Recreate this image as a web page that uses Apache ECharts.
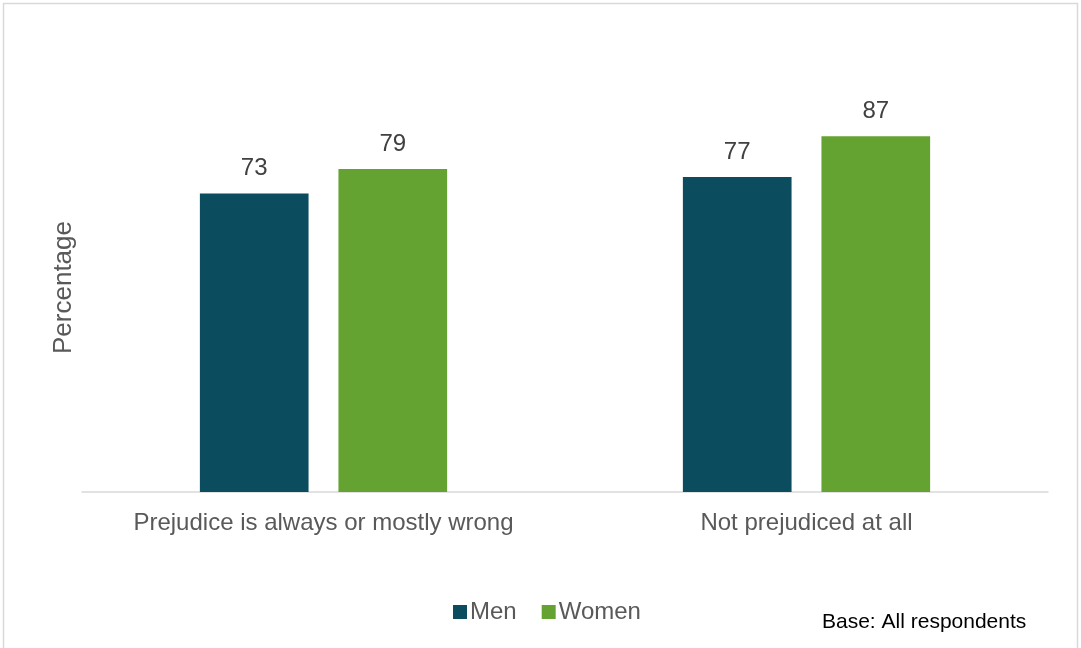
<!DOCTYPE html>
<html><head><meta charset="utf-8">
<script src="https://cdn.jsdelivr.net/npm/echarts@6/dist/echarts.min.js"></script>
<style>html,body{margin:0;padding:0;background:#fff}#c{width:1081px;height:648px}</style>
</head><body><div id="c"></div>
<script>
const categories = ["Prejudice is always or mostly wrong", "Not prejudiced at all"];
const menValues = [73, 77];
const womenValues = [79, 87];
const seriesNames = ["Men", "Women"];
const yAxisTitle = "Percentage";
const baseNote = "Base: All respondents";

const chart = echarts.init(document.getElementById('c'), null, {renderer: 'canvas'});
const font = '"Liberation Sans", Arial, sans-serif';
const lbl = {show: true, position: 'top', distance: 13, color: '#404040', fontSize: 24, fontFamily: font};
chart.setOption({
  animation: false,
  grid: {left: 82, right: 33, top: 83, bottom: 156, containLabel: false},
  legend: {
    data: seriesNames, top: 595, left: 448, itemWidth: 14, itemHeight: 14, itemGap: 25,
    icon: 'rect', textStyle: {color: '#595959', fontSize: 24, fontFamily: font, padding: [0, 0, 0, -2]}
  },
  xAxis: {
    type: 'category', data: categories,
    axisLine: {lineStyle: {color: '#d9d9d9', width: 1.5}},
    axisTick: {show: false},
    axisLabel: {color: '#595959', fontSize: 24, fontFamily: font, margin: 19, interval: 0}
  },
  yAxis: {
    type: 'value', min: 0, max: 100, interval: 20,
    name: yAxisTitle, nameLocation: 'middle', nameGap: 5, nameRotate: 90,
    nameTextStyle: {color: '#595959', fontSize: 26, fontFamily: font},
    axisLine: {show: false}, axisTick: {show: false}, axisLabel: {show: false},
    splitLine: {show: false}
  },
  series: [
    {name: seriesNames[0], type: 'bar', data: menValues, barWidth: '22.5%', barGap: '27.5%',
     itemStyle: {color: '#0b4d5e'}, label: lbl},
    {name: seriesNames[1], type: 'bar', data: womenValues, barWidth: '22.5%',
     itemStyle: {color: '#64a331'}, label: lbl}
  ],
  graphic: [
    {type: 'rect', shape: {x: 3.5, y: 3.5, width: 1074, height: 660}, style: {fill: 'none', stroke: '#d9d9d9', lineWidth: 1.5}, silent: true},
    {type: 'text', left: 822, top: 612, style: {text: baseNote, fill: '#000', fontSize: 21, fontFamily: font}}
  ]
});
</script></body></html>
